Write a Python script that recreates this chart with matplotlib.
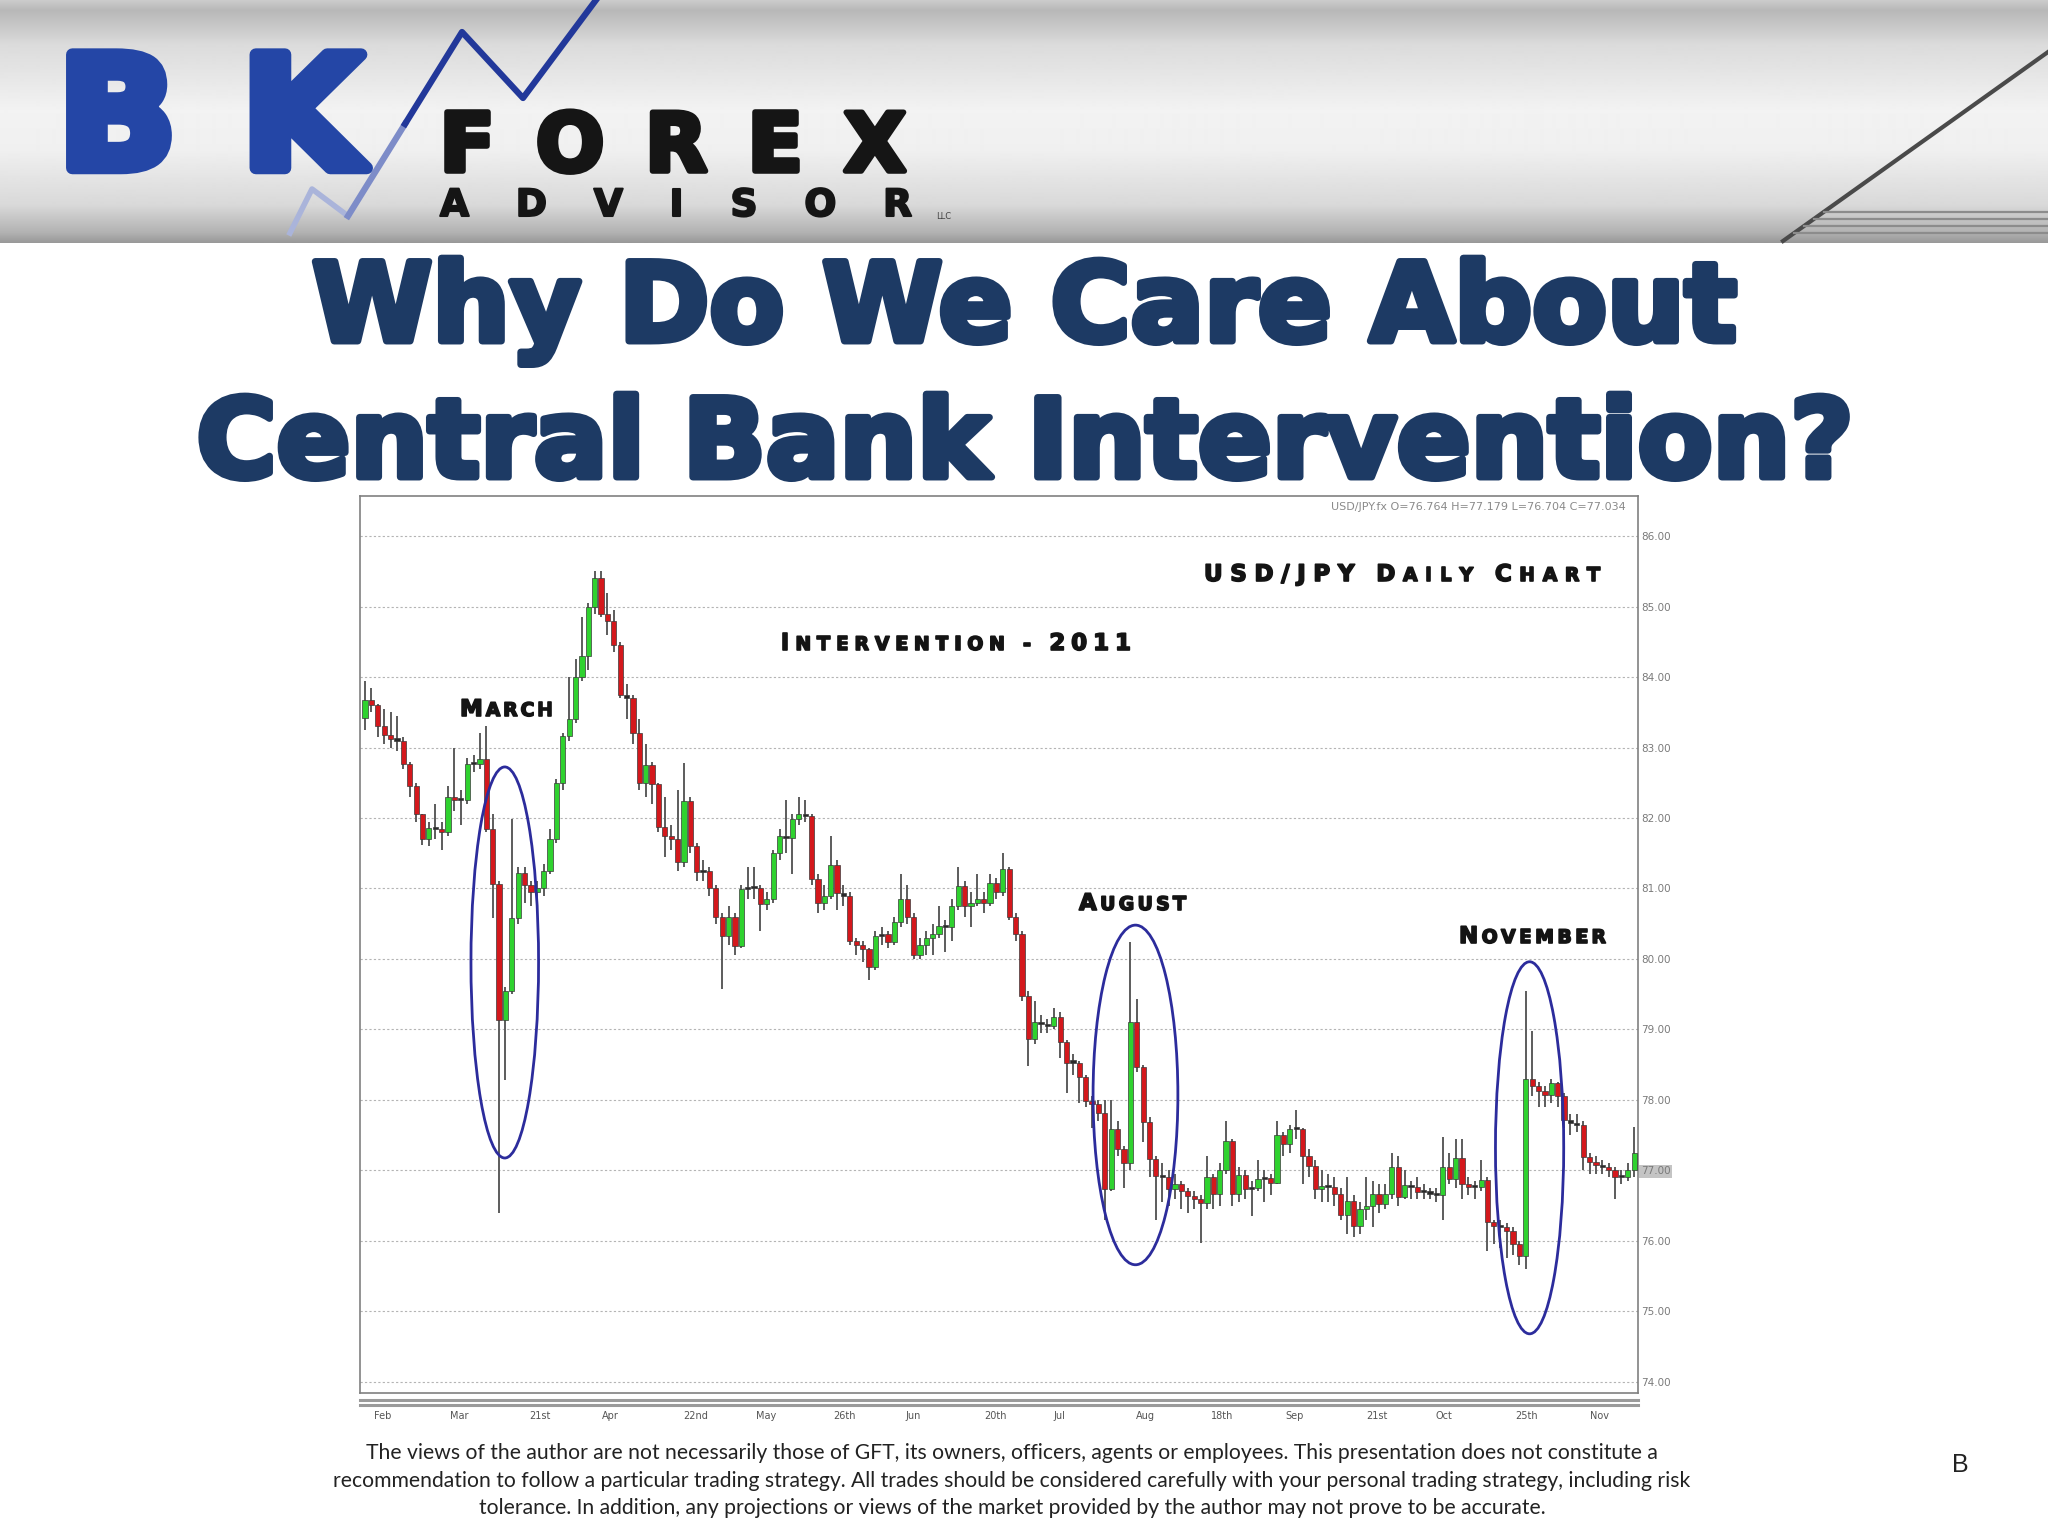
import numpy as np
import matplotlib
matplotlib.use("Agg")
import matplotlib.pyplot as plt
import matplotlib.patheffects as pe
from matplotlib.patches import Ellipse

plt.rcParams['font.family'] = 'DejaVu Sans'

#====== USD/JPY daily candles (open = previous close) ======#
first_open = 83.42
closes = [
    83.68, 83.60, 83.30, 83.18, 83.12, 83.10, 82.76, 82.45, 82.05, 81.70,
    81.86, 81.84, 81.80, 82.30, 82.25, 82.25, 82.77, 82.77, 82.84, 81.84,
    81.07, 79.14, 79.54, 80.58, 81.22, 81.05, 80.95, 81.00, 81.25, 81.70,
    82.50, 83.16, 83.40, 84.00, 84.30, 85.00, 85.40, 84.90, 84.80, 84.45,
    83.74, 83.70, 83.20, 82.50, 82.75, 82.48, 81.87, 81.75, 81.70, 81.37,
    82.24, 81.60, 81.23, 81.25, 81.00, 80.60, 80.33, 80.60, 80.19, 80.99,
    81.02, 81.00, 80.78, 80.85, 81.50, 81.74, 81.72, 81.98, 82.05, 82.03,
    81.13, 80.80, 80.90, 81.34, 80.94, 80.90, 80.26, 80.20, 80.14, 79.88,
    80.33, 80.35, 80.24, 80.52, 80.85, 80.60, 80.05, 80.20, 80.30, 80.35,
    80.47, 80.45, 80.75, 81.04, 80.75, 80.80, 80.85, 80.80, 81.08, 80.95,
    81.27, 80.60, 80.35, 79.48, 78.86, 79.10, 79.08, 79.05, 79.17, 78.82,
    78.53, 78.53, 78.32, 77.99, 77.94, 77.82, 76.73, 77.58, 77.30, 77.10,
    79.10, 78.46, 77.68, 77.16, 76.92, 76.90, 76.73, 76.80, 76.70, 76.64,
    76.60, 76.54, 76.90, 76.66, 77.01, 77.42, 76.66, 76.94, 76.73, 76.75,
    76.87, 76.89, 76.82, 77.50, 77.37, 77.58, 77.58, 77.20, 77.06, 76.73,
    76.78, 76.76, 76.67, 76.36, 76.57, 76.21, 76.45, 76.50, 76.67, 76.52,
    76.67, 77.05, 76.62, 76.79, 76.76, 76.69, 76.69, 76.67, 76.65, 77.05,
    76.88, 77.17, 76.81, 76.76, 76.76, 76.86, 76.26, 76.21, 76.19, 76.14,
    75.95, 75.79, 78.29, 78.19, 78.12, 78.07, 78.24, 78.05, 77.71, 77.67,
    77.64, 77.19, 77.12, 77.07, 77.05, 77.00, 76.90, 76.90, 77.00, 77.24,
]
highs = [
    83.95, 83.85, 83.62, 83.55, 83.50, 83.45, 83.15, 82.80, 82.50, 82.05,
    81.95, 82.20, 81.95, 82.45, 83.00, 82.40, 82.85, 82.90, 83.20, 83.30,
    82.05, 81.10, 79.60, 81.99, 81.30, 81.30, 81.10, 81.10, 81.35, 81.85,
    82.55, 83.20, 84.00, 84.25, 84.85, 85.05, 85.50, 85.50, 85.20, 84.95,
    84.50, 83.90, 83.75, 83.40, 83.05, 82.80, 82.50, 82.30, 81.90, 82.40,
    82.78, 82.30, 81.65, 81.40, 81.30, 81.05, 80.65, 80.75, 80.65, 81.05,
    81.30, 81.30, 81.05, 80.95, 81.55, 81.85, 82.25, 82.05, 82.30, 82.25,
    82.05, 81.20, 81.05, 81.75, 81.40, 81.05, 80.95, 80.30, 80.25, 80.15,
    80.40, 80.45, 80.40, 80.60, 81.20, 81.05, 80.65, 80.30, 80.40, 80.50,
    80.75, 80.55, 80.85, 81.30, 81.10, 80.95, 81.20, 80.95, 81.20, 81.15,
    81.50, 81.30, 80.65, 80.40, 79.55, 79.40, 79.20, 79.15, 79.30, 79.25,
    78.85, 78.65, 78.55, 78.35, 78.05, 78.00, 78.00, 78.00, 77.70, 77.35,
    80.24, 79.43, 78.50, 77.75, 77.20, 77.10, 77.00, 76.95, 76.85, 76.75,
    76.70, 76.65, 77.20, 76.95, 77.10, 77.70, 77.45, 77.05, 77.00, 76.85,
    77.15, 77.00, 76.95, 77.70, 77.55, 77.65, 77.85, 77.60, 77.30, 77.15,
    77.00, 76.95, 76.90, 76.75, 76.90, 76.65, 76.55, 76.90, 76.85, 76.80,
    76.80, 77.25, 77.20, 77.00, 76.85, 76.90, 76.80, 76.75, 76.75, 77.48,
    77.25, 77.45, 77.45, 76.90, 76.85, 77.15, 76.90, 76.30, 76.30, 76.25,
    76.20, 76.00, 79.55, 78.98, 78.25, 78.20, 78.30, 78.25, 78.10, 77.80,
    77.80, 77.70, 77.25, 77.20, 77.15, 77.10, 77.05, 77.00, 77.10, 77.62,
]
lows = [
    83.25, 83.50, 83.15, 83.05, 83.00, 82.95, 82.70, 82.30, 81.95, 81.62,
    81.60, 81.70, 81.55, 81.75, 82.10, 81.90, 82.20, 82.65, 82.70, 81.80,
    80.58, 76.40, 78.28, 79.50, 80.50, 80.80, 80.75, 80.80, 80.90, 81.20,
    81.65, 82.40, 83.10, 83.35, 83.95, 84.10, 84.90, 84.85, 84.60, 84.35,
    83.70, 83.40, 83.05, 82.40, 82.30, 82.20, 81.80, 81.45, 81.55, 81.25,
    81.30, 81.50, 81.10, 81.10, 80.90, 80.50, 79.58, 80.20, 80.05, 80.15,
    80.85, 80.85, 80.40, 80.70, 80.80, 81.40, 81.50, 81.20, 81.90, 81.95,
    81.05, 80.65, 80.70, 80.85, 80.70, 80.75, 80.20, 80.05, 79.95, 79.70,
    79.85, 80.20, 80.15, 80.20, 80.45, 80.50, 80.00, 80.00, 80.05, 80.05,
    80.30, 80.10, 80.25, 80.70, 80.60, 80.45, 80.75, 80.65, 80.75, 80.85,
    80.90, 80.55, 80.25, 79.40, 78.48, 78.80, 78.95, 78.95, 79.00, 78.60,
    78.10, 78.35, 77.95, 77.90, 77.60, 77.70, 76.30, 76.70, 77.20, 76.75,
    77.00, 78.40, 77.40, 76.90, 76.30, 76.55, 76.50, 76.60, 76.45, 76.40,
    76.45, 75.97, 76.45, 76.45, 76.50, 76.95, 76.50, 76.55, 76.60, 76.35,
    76.70, 76.55, 76.65, 76.80, 77.20, 77.25, 77.45, 76.80, 76.90, 76.60,
    76.55, 76.55, 76.50, 76.30, 76.10, 76.05, 76.10, 76.30, 76.20, 76.40,
    76.45, 76.60, 76.50, 76.60, 76.60, 76.60, 76.60, 76.60, 76.55, 76.30,
    76.80, 76.75, 76.60, 76.65, 76.60, 76.70, 75.85, 75.95, 75.90, 75.75,
    75.80, 75.65, 75.60, 78.05, 77.90, 77.90, 77.95, 77.90, 77.60, 77.50,
    77.55, 77.00, 76.95, 76.95, 76.95, 76.90, 76.60, 76.80, 76.85, 76.90,
]

ytick_vals = [86, 85, 84, 83, 82, 81, 80, 79, 78, 77, 76, 75, 74]
xtick_pos = [1.4, 13.3, 25.8, 37.2, 49.9, 61.3, 73.4, 84.8, 97.1, 107.9,
             120.8, 132.7, 144.3, 157.0, 167.8, 180.3, 192.0]
xtick_labels = ["Feb", "Mar", "21st", "Apr", "22nd", "May", "26th", "Jun", "20th",
                "Jul", "Aug", "18th", "Sep", "21st", "Oct", "25th", "Nov"]
quote_line = "USD/JPY.fx O=76.764 H=77.179 L=76.704 C=77.034"

title_lines = ["Why Do We Care About", "Central Bank Intervention?"]
disclaimer = [
    "The views of the author are not necessarily those of GFT, its owners, officers, agents or employees. This presentation does not constitute a",
    "recommendation to follow a particular trading strategy. All trades should be considered carefully with your personal trading strategy, including risk",
    "tolerance. In addition, any projections or views of the market provided by the author may not prove to be accurate.",
]

NAVY = '#1d3a64'
W, H = 2048, 1536
fig = plt.figure(figsize=(W / 100, H / 100), dpi=100)
fig.patch.set_facecolor('white')
rend = fig.canvas.get_renderer()


def pixel_axes(z):
    a = fig.add_axes([0, 0, 1, 1], zorder=z)
    a.set_xlim(0, W)
    a.set_ylim(H, 0)
    a.axis('off')
    a.patch.set_alpha(0)
    return a


def spread_chars(a, x0, x1, y, chars, **kw):
    # chars: list of (char, fontsize); spaced out evenly between x0 and x1
    arts, widths = [], []
    for ch, sz in chars:
        t = a.text(x0, y, ch, fontsize=sz, ha='left', va='baseline', **kw)
        if ch.strip():
            w = t.get_window_extent(rend).width
        else:
            w = sz * 0.35 * 100 / 72
        arts.append(t)
        widths.append(w)
    gap = (x1 - x0 - sum(widths)) / max(len(chars) - 1, 1)
    x = x0
    for t, w in zip(arts, widths):
        t.set_x(x)
        x += w + gap


def small_caps(a, x0, x1, y, text, big=16.5, small=13.5):
    chars = []
    for ch in text:
        if ch.islower():
            chars.append((ch.upper(), small))
        elif ch in ' -':
            chars.append((ch, small))
        else:
            chars.append((ch, big))
    spread_chars(a, x0, x1, y, chars, fontweight='bold', color='#141414',
                 path_effects=[pe.withStroke(linewidth=1.2, foreground='#141414')])


#==== banner ====#
bg = pixel_axes(0)
stops_y = [0, 10, 45, 110, 150, 205, 232, 242]
stops_v = [0.80, 0.72, 0.86, 0.95, 0.94, 0.85, 0.70, 0.60]
g = np.interp(np.arange(243), stops_y, stops_v)
bg.imshow(np.repeat(g[:, None], 2, axis=1), cmap='gray', vmin=0, vmax=1,
          extent=(0, W, 243, 0), aspect='auto', interpolation='bilinear')
bg.set_xlim(0, W)
bg.set_ylim(H, 0)
bg.plot([1783, 2048], [241, 52], color='#4a4a4a', lw=3)
for yy in [212, 219, 226, 233]:
    xs = 1783 + (241 - yy) * 265 / 189
    bg.plot([xs, W], [yy, yy], color='#8c8c8c', lw=1.6)

# logo
bg.plot([290, 312, 348], [233, 189, 216], color='#aab4da', lw=4)
bg.plot([348, 405], [216, 124], color='#7d8cc8', lw=4.5)
bg.plot([405, 462, 523, 596], [124, 32, 98, 0], color='#22389a', lw=4.5)
spread_chars(bg, 58, 362, 168, [('B', 112), ('K', 112)], fontweight='bold',
             color='#2446a6', path_effects=[pe.withStroke(linewidth=9, foreground='#2446a6')])
spread_chars(bg, 440, 906, 171, [(c, 58) for c in "FOREX"], fontweight='bold',
             color='#151515', path_effects=[pe.withStroke(linewidth=4, foreground='#151515')])
spread_chars(bg, 440, 912, 216, [(c, 27) for c in "ADVISOR"], fontweight='bold', color='#151515',
             path_effects=[pe.withStroke(linewidth=1.5, foreground='#151515')])
bg.text(936, 219, "LLC", fontsize=6, color='#444', va='baseline')

#==== chart ====#
ax = fig.add_axes([360 / W, 1 - 1393 / H, 1278 / W, 897 / H], zorder=1)
ax.set_facecolor('white')
n = len(closes)
idx = np.arange(n)
c = np.array(closes)
o = np.array([first_open] + closes[:-1])
hi = np.array(highs)
lo = np.array(lows)
flat = np.abs(c - o) < 0.04
colors = np.where(flat, '#2a2a2a', np.where(c >= o, '#2fd22f', '#d4181c'))
ax.vlines(idx, lo, hi, color='#5c5c5c', lw=1.4, zorder=2)
ax.bar(idx, np.maximum(np.abs(c - o), 0.03), bottom=np.minimum(o, c), width=0.82,
       color=colors, edgecolor='#3a3a3a', linewidth=0.5, zorder=3)

ax.set_xlim(-0.8, n - 0.4)
ax.set_ylim(73.84, 86.57)
ax.yaxis.tick_right()
ax.set_yticks(ytick_vals)
ax.set_yticklabels([f"{v:.2f}" for v in ytick_vals])
ax.tick_params(axis='y', length=0, pad=2, labelsize=7.5, labelcolor='#7a7a7a')
for t in ax.get_yticklabels():
    if t.get_text() == '77.00':
        t.set_bbox(dict(facecolor='#c4c4c4', edgecolor='none', pad=1))
ax.set_xticks(xtick_pos)
ax.set_xticklabels(xtick_labels, ha='left')
ax.tick_params(axis='x', length=0, pad=13, labelsize=7, labelcolor='#555')
ax.grid(axis='y', color='#b4b4b4', ls=(0, (2, 2)), lw=0.8)
ax.set_axisbelow(True)
for s in ax.spines.values():
    s.set_color('#808080')
    s.set_linewidth(1.2)

# intervention circles
for cx, cy, ew, eh in [(21.9, 79.95, 10.6, 5.55), (120.8, 78.07, 13.3, 4.82), (182.6, 77.32, 10.7, 5.28)]:
    ax.add_patch(Ellipse((cx, cy), ew, eh, fill=False, edgecolor='#2c2c9c', lw=2.0, zorder=5))

#==== overlay texts ====#
ov = pixel_axes(2)
ov.plot([360, 1638], [1400, 1400], color='#9a9a9a', lw=2.2)
ov.plot([360, 1638], [1405, 1405], color='#9a9a9a', lw=2.2)
ov.text(1626, 507, quote_line, ha='right', va='center', fontsize=8, color='#8a8a8a')

small_caps(ov, 1204, 1600, 581, "USD/JPY Daily Chart")
small_caps(ov, 781, 1131, 650, "Intervention - 2011")
small_caps(ov, 460, 553, 716, "March")
small_caps(ov, 1079, 1186, 910, "August")
small_caps(ov, 1459, 1606, 943, "November")

for txt, yb in zip(title_lines, [341, 477]):
    ov.text(1024, yb, txt, ha='center', va='baseline', fontsize=78.5, fontweight='bold',
            color=NAVY, path_effects=[pe.withStroke(linewidth=5, foreground=NAVY)])

for txt, yb in zip(disclaimer, [1459, 1487, 1514]):
    ov.text(1012, yb, txt, ha='center', va='baseline', fontsize=15.2, color='#222',
            family='Lato')
ov.text(1960, 1472, "B", ha='center', va='baseline', fontsize=18, color='#222',
        family='Liberation Sans')

fig.savefig('out.png', dpi=100, facecolor='white')
